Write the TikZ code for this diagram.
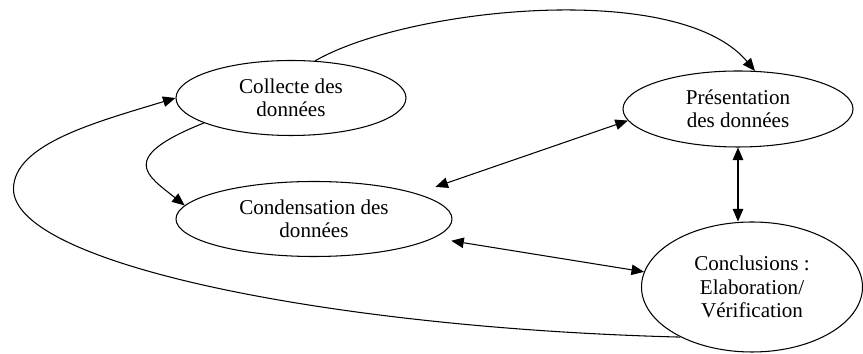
\documentclass[tikz,border=0pt]{standalone}
\usepackage{fontspec}
\setmainfont{Liberation Serif}
\usetikzlibrary{shapes.geometric,arrows.meta}

\begin{document}
\begin{tikzpicture}[
    etape/.style={draw, ellipse, line width=0.6pt, inner sep=0pt, align=center, font=\fontsize{12}{13.2}\selectfont},
    lien/.style={line width=0.6pt},
    >={Triangle[length=0.25cm,width=0.21cm]}
]
    \useasboundingbox (0,0) rectangle (17.26,7.08);

    % Ellipses
    \node[etape, minimum width=4.6cm, minimum height=1.5cm] (col) at (5.82,5.12) {Collecte des\\données};
    \node[etape, minimum width=4.6cm, minimum height=1.52cm] (pres) at (14.76,4.90) {Présentation\\des données};
    \node[etape, minimum width=5.52cm, minimum height=1.5cm] (cond) at (6.28,2.70) {Condensation des\\données};
    \node[etape, minimum width=4.42cm, minimum height=2.6cm] (conc) at (15.04,1.34) {Conclusions :\\Elaboration/\\Vérification};

    \coordinate (boucle) at (0.27,3.3);

    % Fleches
    \draw[lien,->] (col.57) .. controls +(30:2.1) and +(130:2.4) .. (pres.66);
    \draw[lien,->] (col.196) .. controls +(-1.75,-0.7) and +(-0.75,0.6) .. (cond.174);
    \draw[lien,<->, shorten <=0.4cm] (cond.14) -- (pres.186);
    \draw[lien,<->, shorten <=0.35cm] (cond.-9) -- (conc.172);
    \draw[lien,<->] (pres.south) -- (conc.north -| pres.south);
    \draw[lien,->] (conc.215) .. controls +(-7,0.18) and +(0,-1.5) .. (boucle)
        .. controls +(0,0.9) and +(-1.58,-0.48) .. (col.west);
\end{tikzpicture}
\end{document}
